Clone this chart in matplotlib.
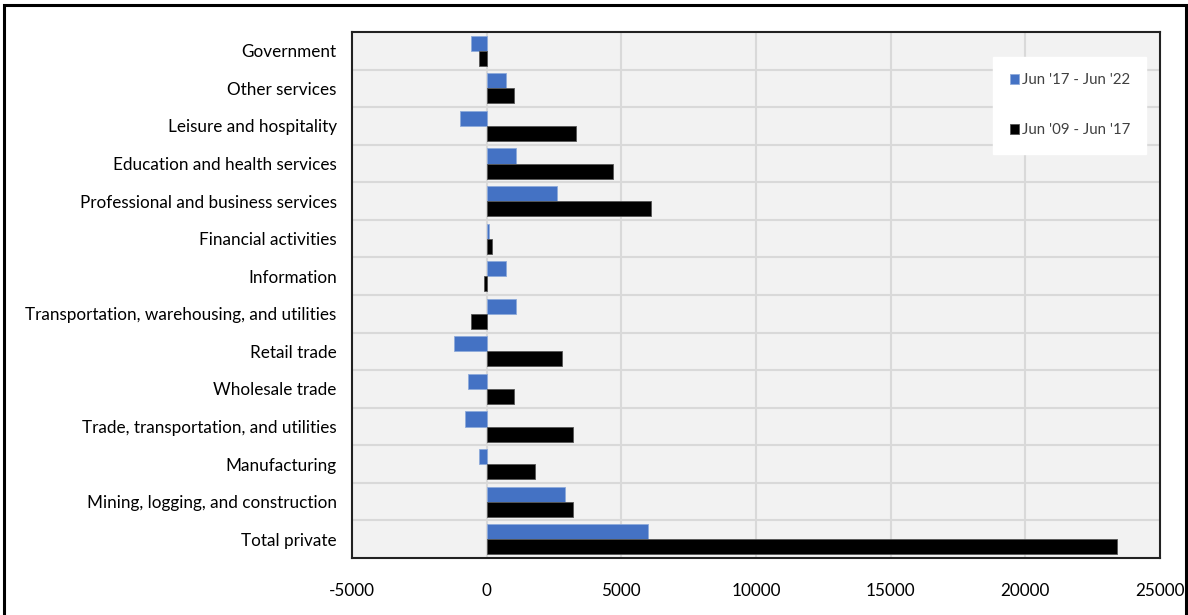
import matplotlib
matplotlib.use("Agg")
import matplotlib.pyplot as plt
from matplotlib.patches import Rectangle
import numpy as np

plt.rcParams["font.family"] = ["Lato", "DejaVu Sans"]

# employment change by sector, thousands of jobs (top to bottom as shown)
sectors = [
    "Government",
    "Other services",
    "Leisure and hospitality",
    "Education and health services",
    "Professional and business services",
    "Financial activities",
    "Information",
    "Transportation, warehousing, and utilities",
    "Retail trade",
    "Wholesale trade",
    "Trade, transportation, and utilities",
    "Manufacturing",
    "Mining, logging, and construction",
    "Total private",
]
chg_17_22 = [-600, 700, -1000, 1100, 2600, 80, 700, 1100, -1200, -700, -800, -300, 2900, 6000]
chg_09_17 = [-300, 1000, 3300, 4700, 6100, 200, -100, -600, 2800, 1000, 3200, 1800, 3200, 23400]
series_labels = ["Jun '17 - Jun '22", "Jun '09 - Jun '17"]
xticks = [-5000, 0, 5000, 10000, 15000, 20000, 25000]

BLUE = "#4472c4"
BLACK = "#000000"

fig = plt.figure(figsize=(11.88, 6.15), dpi=100)
ax = fig.add_axes([352 / 1188, 1 - 558 / 615, (1160 - 352) / 1188, (558 - 32) / 615])
ax.set_facecolor("#f2f2f2")

y = np.arange(len(sectors))
h = 0.4
ax.barh(y - h / 2, chg_17_22, height=h, color=BLUE, edgecolor="#8eaadb", lw=0.6,
        label=series_labels[0], zorder=3)
ax.barh(y + h / 2, chg_09_17, height=h, color=BLACK, edgecolor="#555555", lw=0.6,
        label=series_labels[1], zorder=3)

ax.set_xlim(-5000, 25000)
ax.set_ylim(len(sectors) - 0.5, -0.5)
ax.set_xticks(xticks)
ax.set_xticklabels([str(t) for t in xticks], fontsize=12.3)
ax.set_yticks(y)
ax.set_yticklabels(sectors, fontsize=12.3)
ax.tick_params(length=0)
ax.tick_params(axis="y", pad=11)
ax.tick_params(axis="x", pad=18)

# category separators and value gridlines
for b in np.arange(0.5, len(sectors) - 0.5, 1):
    ax.axhline(b, color="#d9d9d9", lw=1.5, zorder=1)
for t in xticks[1:-1]:
    ax.axvline(t, color="#d9d9d9", lw=1.5, zorder=1)

for s in ax.spines.values():
    s.set_color("#222222")
    s.set_linewidth(1.5)

leg = ax.legend(loc="upper left", bbox_to_anchor=((993 - 352) / 808, 1 - (57 - 32) / 526),
                frameon=True, fancybox=False, framealpha=1, edgecolor="white",
                fontsize=10.8, handlelength=0.6, handleheight=0.6, handletextpad=0.2,
                labelspacing=2.4, borderpad=1.1, borderaxespad=0)
for t in leg.get_texts():
    t.set_color("#404040")

# outer frame round the whole figure
fig.patches.append(Rectangle((4 / 1188, -0.02), (1186 - 4) / 1188, 1.02 - 5 / 615,
                             transform=fig.transFigure, fill=False,
                             edgecolor="black", lw=2.2))

fig.savefig("out.png", dpi=100)
